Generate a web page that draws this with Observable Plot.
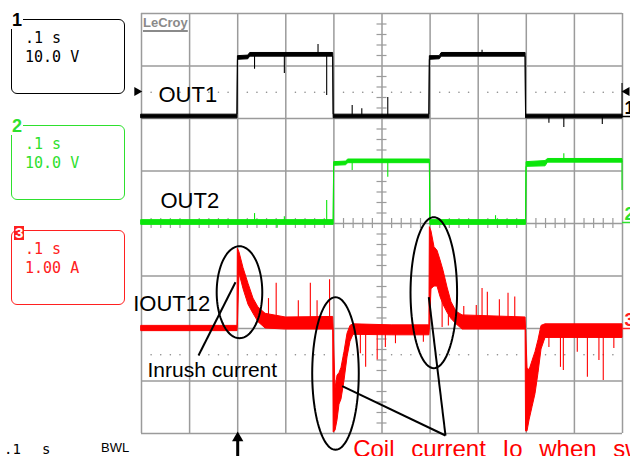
<!DOCTYPE html>
<html><head><meta charset="utf-8">
<script src="https://cdn.jsdelivr.net/npm/d3@7"></script>
<script src="https://cdn.jsdelivr.net/npm/@observablehq/plot@0.6"></script>
<style>
html,body{margin:0;padding:0;background:#fff;}
#wrap{position:relative;width:630px;height:456px;overflow:hidden;background:#fff;}
#wrap svg{position:absolute;left:0;top:0;}
.box{position:absolute;left:11px;width:112px;height:73px;border:1.5px solid;border-radius:6px;background:transparent;}
.lbl{position:absolute;font:bold 18px "Liberation Sans",Arial,sans-serif;line-height:18px;background:#fff;padding:0 1px;}
.mono{position:absolute;font:15px "DejaVu Sans Mono",monospace;line-height:15px;white-space:pre;}
.ov{position:absolute;white-space:pre;}
</style></head>
<body><div id="wrap"></div>
<script>
// ---------------- data ----------------
const timebase = ".1 s";
const channels = ["1", "2", "3"];
const channelScales = ["10.0 V", "10.0 V", "1.00 A"];
const traceLabels = ["OUT1", "OUT2", "IOUT12"];
const annotationText = "Inrush current";
const noteText = "Coil current Io when sw";
const statusTime = ".1";
const statusUnit = "s";
const statusBW = "BWL";
const brand = "LeCroy";

// envelopes: [time s, min, max]  (OUT1/OUT2 in V, IOUT12 in A)
const out1 = [
  [0.000, -0.35, 0.35], [0.1995, -0.35, 0.35],
  [0.2005, 10.8, 11.5], [0.222, 10.9, 11.6], [0.226, 11.4, 12.1], [0.3985, 11.4, 12.1],
  [0.3995, -0.35, 0.35], [0.5985, -0.35, 0.35],
  [0.5995, 10.8, 11.5], [0.620, 10.9, 11.5], [0.624, 11.4, 12.1], [0.7985, 11.4, 12.1],
  [0.7995, -0.35, 0.35], [1.000, -0.35, 0.35]
];
const out1Spikes = [ // [time, from, to]
  [0.235, 11.5, 9.0], [0.297, 11.5, 8.2], [0.367, 12.0, 13.7], [0.385, 11.5, 4.0],
  [0.438, 0, 2.1], [0.458, 0, 1.5], [0.512, 0, 3.6],
  [0.708, 12.0, 12.6],
  [0.847, 0, -1.3], [0.878, 0, -2.1], [0.958, 0, -1.5], [0.999, 0, 6.3]
];
const out2 = [
  [0.000, -0.45, 0.45], [0.3995, -0.45, 0.45],
  [0.4005, 10.8, 11.5], [0.425, 10.9, 11.6], [0.430, 11.3, 12.0], [0.5995, 11.3, 12.0],
  [0.6005, -0.45, 0.45], [0.7995, -0.45, 0.45],
  [0.8005, 10.6, 11.5], [0.840, 10.7, 11.7], [0.845, 11.4, 12.1], [1.000, 11.4, 12.1]
];
const out2Spikes = [
  [0.235, 0, 1.7], [0.282, 0, -1.1], [0.297, 0, 1.1], [0.385, 0, 4.2],
  [0.438, 11.5, 9.9], [0.512, 11.5, 8.6],
  [0.736, 0, 1.3],
  [0.878, 11.7, 13.1], [0.999, 11.7, 6.1]
];
const iout = [
  [0.000, -0.05, 0.05], [0.1995, -0.05, 0.05],
  [0.2003, 0.05, 1.52],
  [0.2037, 1.05, 1.45], [0.2121, 0.75, 1.15], [0.2225, 0.45, 0.85], [0.2328, 0.28, 0.57],
  [0.2432, 0.12, 0.40], [0.258, 0.0, 0.28], [0.300, -0.02, 0.21], [0.3985, -0.02, 0.22],
  [0.3995, -1.98, 0.0],
  [0.4033, -1.95, -1.15], [0.4075, -1.75, -0.9], [0.4116, -1.45, -0.85], [0.4158, -1.35, -0.75],
  [0.4220, -1.0, -0.45], [0.4283, -0.55, -0.1], [0.4345, -0.25, 0.05], [0.4407, -0.12, 0.08],
  [0.520, -0.13, 0.06], [0.5985, -0.13, 0.06],
  [0.5995, 0.0, 1.93],
  [0.6029, 0.75, 1.85], [0.6091, 0.8, 1.55], [0.6154, 0.8, 1.48], [0.6216, 0.6, 1.3],
  [0.6279, 0.45, 1.1], [0.6362, 0.3, 0.78], [0.6445, 0.18, 0.5], [0.6549, 0.08, 0.32],
  [0.6674, -0.02, 0.25], [0.7985, -0.02, 0.21],
  [0.7995, -1.96, 0.0],
  [0.8025, -1.96, -0.75], [0.8067, -1.75, -0.8], [0.8129, -1.5, -0.62], [0.8191, -1.25, -0.45],
  [0.8254, -0.85, -0.22], [0.8316, -0.4, 0.05], [0.8399, -0.18, 0.08],
  [1.000, -0.18, 0.08]
];
const ioutSpikes = [
  [0.264, 0.15, 0.57], [0.280, 0.15, 0.86], [0.326, 0.15, 0.53], [0.351, 0.15, 0.86],
  [0.365, 0.15, 0.53], [0.391, 0.15, 0.93],
  [0.455, 0, -0.48], [0.466, 0, -0.74], [0.490, 0, -0.6], [0.507, 0, -0.36], [0.528, 0, -0.29], [0.586, 0, -0.26],
  [0.625, 0.8, 0.02], [0.638, 0.5, 0.05],
  [0.670, 0.15, 0.42], [0.696, 0.15, 0.44], [0.708, 0.15, 0.76], [0.719, 0.15, 0.69],
  [0.744, 0.15, 0.55], [0.762, 0.15, 0.67], [0.776, 0.15, 0.6],
  [0.847, 0, -0.36], [0.871, 0, -0.74], [0.877, 0, -0.8], [0.906, 0, -0.45],
  [0.927, 0, -0.93], [0.951, 0, -0.61], [0.960, 0, -0.99], [0.982, 0, -0.38]
];
// annotation ellipses: [centre time, centre div, radius time, radius div]
const ellipses = [
  [0.2037, -1.309, 0.0474, 0.876],
  [0.4033, -2.857, 0.0484, 1.453],
  [0.6077, -1.318, 0.0484, 1.438]
];
// leader lines: [t1, div1, t2, div2]
const leaders = [
  [0.1954, -1.118, 0.1185, -2.514],
  [0.4173, -3.099, 0.632, -4.038],
  [0.5973, -1.404, 0.632, -4.038]
];
const triggerTime = 0.2;

// ---------------- styling / layout ----------------
const OFF = [2.038, 0.019, -2.0];   // ground position in divisions
const PER_DIV = [10, 10, 1];        // units per division
const TRACE = ["#000000", "#0be60b", "#ff0000"];
const BOXC = ["#000000", "#2ee02e", "#ff2020"];
const GRID = "#9b9b9b";
const SANS = "Liberation Sans, Arial, sans-serif";

const env = (data, i, color) => Plot.areaY(data, {
  x: d => d[0], y1: d => OFF[i] + d[1] / PER_DIV[i], y2: d => OFF[i] + d[2] / PER_DIV[i],
  fill: color, stroke: color, strokeWidth: 1, curve: "linear"
});
const spikes = (data, i, color) => Plot.ruleX(data, {
  x: d => d[0], y1: d => OFF[i] + d[1] / PER_DIV[i], y2: d => OFF[i] + d[2] / PER_DIV[i],
  stroke: color, strokeWidth: 1.1
});

const majorT = d3.range(0, 1.00001, 0.1);
const majorV = d3.range(-4, 4.00001, 1);
const minorT = d3.range(0, 1.00001, 0.02).filter(t => Math.abs(t * 10 - Math.round(t * 10)) > 1e-6);
const minorV = d3.range(-4, 4.00001, 0.2).filter(v => Math.abs(v - Math.round(v)) > 1e-6);
const dotted = minorT.flatMap(t => [[t, 2.5], [t, -2.5]]);
const ellipsePts = ellipses.flatMap(([cx, cy, rx, ry], k) =>
  d3.range(0, 97).map(j => { const a = j / 96 * 2 * Math.PI; return {k, x: cx + rx * Math.cos(a), y: cy + ry * Math.sin(a)}; }));

const labelPos = [[0.0353, 2.444], [0.0395, 0.432], [-0.0173, -1.537]];

const plot = Plot.plot({
  width: 630, height: 456,
  marginLeft: 141, marginRight: 8, marginTop: 13, marginBottom: 23,
  x: {domain: [0, 1], axis: null},
  y: {domain: [-4, 4], axis: null},
  style: {background: "transparent", fontFamily: SANS},
  marks: [
    Plot.ruleX(majorT, {x: d => d, y1: -4, y2: 4, stroke: GRID, strokeWidth: 1.5}),
    Plot.ruleY(majorV, {y: d => d, x1: 0, x2: 1, stroke: GRID, strokeWidth: 1.5}),
    Plot.ruleX(minorT, {x: d => d, y1: -0.095, y2: 0.095, stroke: GRID, strokeWidth: 1.2}),
    Plot.ruleY(minorV, {y: d => d, x1: 0.5 - 0.0104, x2: 0.5 + 0.0104, stroke: GRID, strokeWidth: 1.2}),
    Plot.dot(dotted, {x: d => d[0], y: d => d[1], r: 0.8, fill: "#888", stroke: null}),
    env(out1, 0, TRACE[0]), spikes(out1Spikes, 0, TRACE[0]),
    env(out2, 1, TRACE[1]), spikes(out2Spikes, 1, TRACE[1]),
    env(iout, 2, TRACE[2]), spikes(ioutSpikes, 2, TRACE[2]),
    Plot.line(ellipsePts, {x: "x", y: "y", z: "k", stroke: "#000", strokeWidth: 2}),
    Plot.link(leaders, {x1: d => d[0], y1: d => d[1], x2: d => d[2], y2: d => d[3], stroke: "#000", strokeWidth: 2}),
    Plot.text(traceLabels, {x: (d, i) => labelPos[i][0], y: (d, i) => labelPos[i][1], text: d => d,
      textAnchor: "start", fontSize: 22, fill: "#000", fontFamily: SANS}),
    Plot.text([annotationText], {x: 0.0125, y: -2.8, text: d => d, textAnchor: "start", fontSize: 21, fill: "#000", fontFamily: SANS}),
    Plot.text([noteText], {x: 0.440, y: -4.301, text: d => d, textAnchor: "start", fontSize: 24, fill: "#ff0000", fontFamily: SANS}),
    // trigger position arrow
    Plot.ruleX([triggerTime], {x: d => d, y1: -4.09, y2: -4.45, stroke: "#000", strokeWidth: 3}),
    Plot.dot([triggerTime], {x: d => d, y: -4.085, symbol: "triangle", r: 4.2, fill: "#000", stroke: null}),
    // trigger level markers
    Plot.dot([-0.0094], {x: d => d, y: 2.514, symbol: "triangle", rotate: 90, r: 3.4, fill: "#000", stroke: null}),
    Plot.dot([1.009], {x: d => d, y: 2.514, symbol: "triangle", rotate: -90, r: 3.4, fill: "#000", stroke: null}),
    // channel ground markers
    Plot.text(channels, {x: 1.0, dx: 2, y: (d, i) => OFF[i], dy: -8, text: d => d, textAnchor: "start",
      fontSize: 18, fontWeight: "bold", fill: (d, i) => BOXC[i], fontFamily: SANS}),
    Plot.ruleY(channels, {y: (d, i) => OFF[i], x1: 1.0, x2: 1.02, stroke: (d, i) => BOXC[i], strokeWidth: 1.5})
  ]
});

const svg = plot;
d3.select(svg).selectAll("text").filter(function () { return this.textContent.startsWith("Coil"); })
  .style("word-spacing", "10px");

const wrap = document.getElementById("wrap");
wrap.appendChild(svg);

function addDiv(cls, text, left, top, css) {
  const el = document.createElement("div");
  el.className = cls; el.textContent = text;
  el.style.left = left + "px"; el.style.top = top + "px";
  Object.assign(el.style, css || {});
  wrap.appendChild(el);
  return el;
}
const boxTop = [19, 125, 230];
channels.forEach((ch, i) => {
  const top = boxTop[i];
  addDiv("box", "", 11, top, {borderColor: BOXC[i]});
  if (i === 2) {
    addDiv("lbl", ch, 14, top - 4, {color: "#fff", background: BOXC[i], fontSize: "15px", lineHeight: "14px", padding: "0 1px"});
  } else {
    addDiv("lbl", ch, 11, top - 8, {color: BOXC[i]});
  }
  addDiv("mono", timebase, 25, top + 12, {color: BOXC[i]});
  addDiv("mono", channelScales[i], 25, top + 31, {color: BOXC[i]});
});
addDiv("ov", statusTime, 4, 442, {font: '14px "DejaVu Sans Mono",monospace', lineHeight: "14px"});
addDiv("ov", statusUnit, 42, 442, {font: '14px "DejaVu Sans Mono",monospace', lineHeight: "14px"});
addDiv("ov", statusBW, 101, 441, {font: '13px "Liberation Sans",Arial,sans-serif', lineHeight: "13px"});
addDiv("ov", brand, 143, 16, {font: 'bold 13px "Liberation Sans",Arial,sans-serif', lineHeight: "13px", color: "#8a8a8a",
  textDecoration: "underline", textUnderlineOffset: "3px", textDecorationThickness: "1.5px"});
</script>
</body></html>
